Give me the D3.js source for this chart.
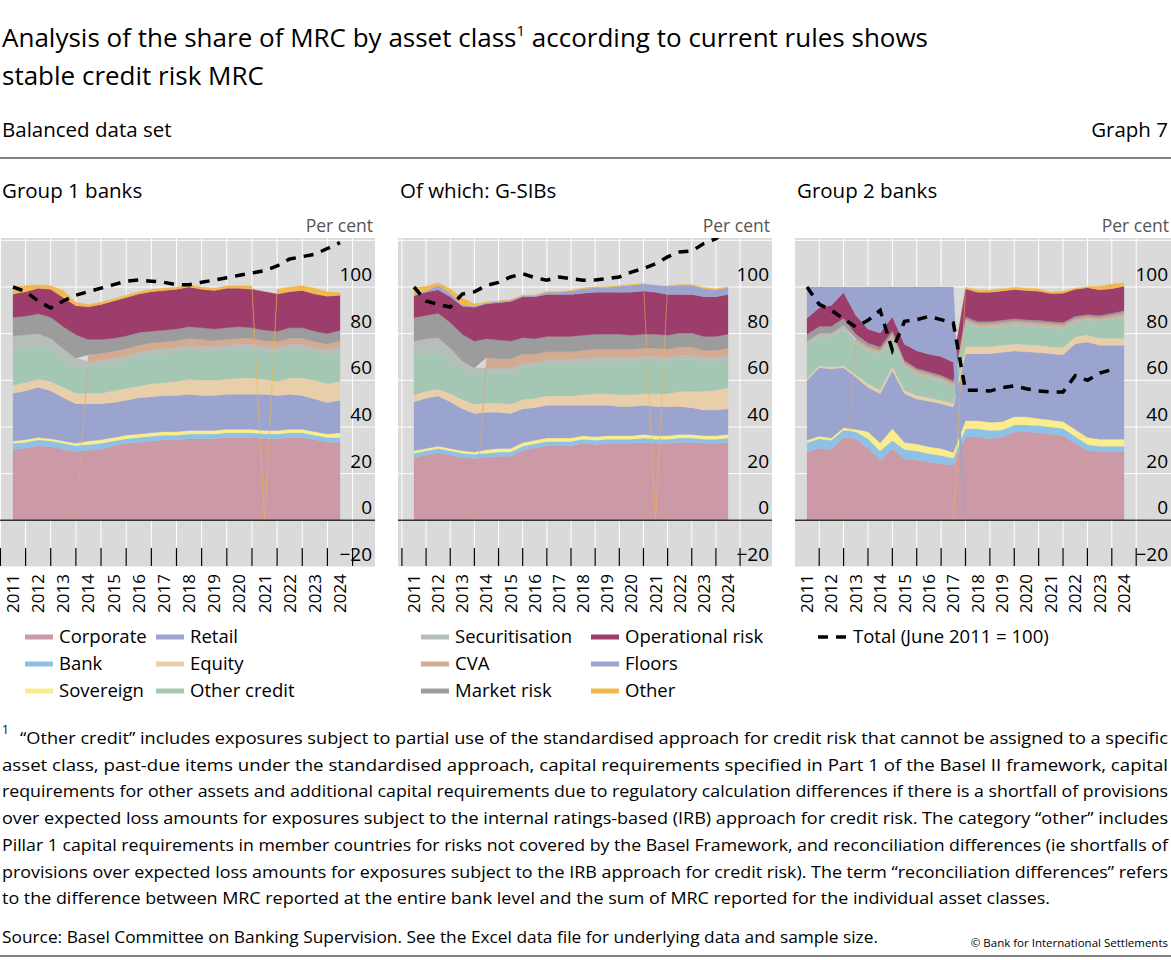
<!DOCTYPE html>
<html><head><meta charset="utf-8">
<script src="https://cdn.jsdelivr.net/npm/d3@7"></script>
<style>body{margin:0;background:#fff;font-family:"Open Sans","Noto Sans",sans-serif;}</style>
</head><body><svg id="c" width="1171" height="960"></svg>
<script>
const years = [2011,2012,2013,2014,2015,2016,2017,2018,2019,2020,2021,2022,2023,2024];
const yTicks = [-20,0,20,40,60,80,100];
const seriesNames = ["Corporate","Bank","Sovereign","Retail","Equity","Other credit","Securitisation","CVA","Market risk","Operational risk","Floors","Other"];
const colors = {"Corporate":"#cc99a6","Bank":"#8ec1e6","Sovereign":"#fbec8c","Retail":"#9ba4cf","Equity":"#e9cfa9","Other credit":"#a4c7b3","Securitisation":"#b5beb9","CVA":"#d3ab93","Market risk":"#9c9c9c","Operational risk":"#9c3d6b","Floors":"#9ba4cf","Other":"#f2b84d"};

// Group 1 banks (semi-annual, June 2011 .. June 2024)
const g1Corporate = [30.5,31,32,31.5,30.5,29.5,30,30.5,32,33,33.5,34,34.5,34.5,35,35,35,35.5,35.5,35.5,35,35,35.5,35.5,34.5,33.5,33.5];
const g1Bank = [2.5,2.5,2.5,2.5,2.5,2.5,2.5,2.5,2,2,2,2,2,2,2,2,2,2,2,2,2,2,2,2,2,2,2];
const g1Sovereign = [1,1,1,1,1,1,1.5,1.5,1.5,1.5,1.5,1.5,1.5,1.5,1.5,1.5,1.5,1.5,1.5,1.5,1.5,1.5,1.5,1.5,1.5,1.5,2];
const g1Retail = [20.5,21,21.5,20.5,18.5,17,16,15.5,15,15,15.5,15.5,15.5,15.5,15.5,15,15,15,15,15,15.5,15,15,14.5,14,13.5,14];
const g1Equity = [3.5,3.5,3.5,4,4.5,4.5,4.5,4.5,5,5,5,5.5,5.5,6,6.5,6.5,6.5,6.5,7,7,6.5,6,7,7.5,8,8,8];
const g1OtherCredit = [15,14.5,14,13.5,12,11,11.5,12,12,12,12.5,12.5,12.5,12.5,12.5,12.5,12.5,12.5,12.5,12.5,12,12.5,12.5,12.5,12,12.5,13];
const g1Securitisation = [6,6,5.5,5,4.5,4,2,2,2,2,2,2,2,2,2,2,2,2,2,2,2,2,2,2,2,2,2];
const g1CVA = [0,0,0,0,0,0,3,3,3,3,3,3,3,3,3,3,2.5,2.5,2.5,2.5,2.5,2.5,2.5,2.5,2.5,2.5,2.5];
const g1MarketRisk = [8,8,8.5,9,9.5,10,6.5,6,5.5,5.5,5.5,5,5,5,5,5,5,5,5,4.5,4.5,4.5,4.5,4.5,4.5,4.5,4.5];
const g1OpRisk = [10,10.5,11,12,12.5,12.5,14,15,16,16.5,16.5,17,17,17,17,16.5,16.5,17,16.5,16.5,16.5,16,15.5,16,16,16,15];
const g1Floors = [0,0,0,0,0,0,0,0,0,0,0,0,0,0,0,0,0,0,0,0,0,0,0,0,0,0,0];
const g1Other = [3,2.5,1.5,1.5,3,1.5,1,1,1,1,1,1,1,1,1,1,1,1,1,1.5,-0.5,2,2,2,2.5,2,1];
const g1Total = [100,98,94,91,94,96.5,98,99.5,101,102.5,103,102.5,102,101,101,102,103,104,105,106,107,109,112,113,114,116.5,119];

// Of which: G-SIBs
const gsCorporate = [27,28,29,28,27,26.5,27,27.5,27.5,30,31,32,32,32,33,32.5,33,33,33,33.5,33,33,33.5,33.5,33,33,33.5];
const gsBank = [1.8,1.8,1.8,1.8,1.8,1.8,1.8,1.8,1.8,1.8,1.8,1.8,1.8,1.8,1.8,1.8,1.8,1.8,1.8,1.8,1.8,1.8,1.8,1.8,1.8,1.8,1.8];
const gsSovereign = [1,1,1,1,1,1,1.5,1.5,1.5,1.5,1.5,1.5,1.5,1.5,1.5,1.5,1.5,1.5,1.5,1.5,1.5,1.5,1.5,1.5,1.5,1.5,1.5];
const gsRetail = [21,21.5,21.5,20,18,16.5,16,15.5,15,14.5,14,14,14,14,13,13.5,13,12.5,12.5,12.5,12.5,12.5,12,11.5,11,11,11];
const gsEquity = [3,3,3,3.5,4,4,4,4,4,4,4,4,4,4,4.5,5,5,5,5,5,5.5,5.5,6.5,7,8,8.5,9];
const gsOtherCredit = [16.5,16,15.5,14,13,12.5,13,13,13.5,13.5,13.5,13.5,13.5,13.5,13.5,13.5,13.5,14,14,14,14,13.5,13.5,13.5,12.5,12,12];
const gsSecuritisation = [6.5,6.5,6.5,5.5,3.5,3,2,2,2,2,2,2,2,2,2,2,2,2,2,2,2,2,2,2,2,2,2];
const gsCVA = [0,0,0,0,0,0,4.5,4,4,4,3.5,3.5,3.5,3.5,3.5,3.5,3.5,3.5,3.5,3.5,3.5,3.5,3.5,3.5,3,3,3];
const gsMarketRisk = [10,10,10.5,11,11.5,11.5,8,8,7.5,7,6.5,6.5,6.5,6.5,6.5,6.5,6.5,6.5,6,6,6,6,6,6,6,6,6];
const gsOpRisk = [9.5,10,10,11,12,14.5,15,16,17,17.5,18,18,18,18,18,18,18,18,18.5,18.5,18,17.5,16.5,16.5,17,17,17];
const gsFloors = [0.5,0.5,2,1.5,0.5,0.5,0.5,0.5,0.5,0.5,0.5,1,1,1.5,2,2,2,2.5,3,3,3,3.5,4,4,3.5,3,3];
const gsOther = [3,2,1,2,3,1,0.3,0.3,0.3,0.3,0.3,0.3,0.3,0.3,0.3,0.3,0.3,0.3,0.3,0.3,-1,0.3,0.3,0.3,0.5,0.5,0.3];
const gsTotal = [100,94,92.5,91.4,97,97.9,100.7,102,104.3,105.7,104,102.9,104.3,103.6,102.9,103,103.6,104.3,106.4,107.9,110,112.9,115,115.4,118.6,120.7,125];

// Group 2 banks
const g2Corporate = [29.3,31,30.3,35.7,35,31,25.7,30.7,26.4,25.7,25,24.3,23.6,35.7,35.7,35,35.7,37.9,37.9,37.6,37,36.4,32.9,30,29.3,29.3,29.3];
const g2Bank = [4,4,4,3,3,4,4,3.5,4,4,3.5,3.5,3,3.5,3.5,3.5,3,3,3,3,3,3,3,2.5,2.5,2.5,2.5];
const g2Sovereign = [1,1,1,1,1,3,3.5,5,3,3,3,3,2.5,3.5,3.5,3.5,3.5,3.5,3.5,3,3,3,3,3,3,3,3];
const g2Retail = [25.7,29.4,29.7,25.7,22.4,19,21.1,25.1,20.9,19.3,19.5,19.2,19.5,28.7,28.7,29.4,29.8,28.2,27.8,28.3,28.4,28.6,36.8,40.9,40.2,40.2,40.2];
const g2Equity = [0.7,0.7,0.7,0.7,1,1.5,1.5,1.5,1.5,1.5,1.5,1.5,1.5,3,3,3,3,3,3,3,3,3,3,3,3,3,3];
const g2OtherCredit = [14,12,12.5,15.5,13,14,15,12,10,9,8.5,8,7,10,8,8,8,8,8,8,8,8,6,6,7,8,9];
const g2Securitisation = [2,2,2,2,1.5,1,1,1,0.7,0.7,0.7,0.7,0.7,0.8,0.8,0.8,0.8,0.8,0.8,0.8,0.8,0.8,0.8,0.8,0.8,0.8,0.8];
const g2CVA = [0,0,0,0,1,1,1,1,1,1,1,1,1,1,1,1,1,1,1,1,1,1,1,1,1,1,1];
const g2MarketRisk = [3,3,3,3,2,1.5,1.5,1.5,1,1,1,1,1,1,1,1,1,1,1,1,1,1,1,1,1,1,1];
const g2OpRisk = [7,8,9,11,8,6,6,6,7,7.5,7.5,8,8,12,12.5,12.5,12.5,12.5,12.5,12.5,12,12.5,11.5,11.5,11,10.5,10.5];
const g2Floors = [13.3,8.9,7.8,2.4,12,18,19.7,12.7,24.5,27.3,28.8,29.8,32.2,0,0,0,0,0,0,0,0,0,0,0,0,0,0];
const g2Other = [0,0,0,0,0,0,0,0,0,0,0,0,0,0.8,1,1,1,1,1,1,0.7,1,0.5,0.5,1.5,2,1.5];
const g2Total = [100,92.6,90,86.4,82.9,85.7,90,72.9,85.3,86,87.4,86,84.6,55.7,55.7,55.4,56.9,57.6,56.4,55.4,55,55,62,60,63.1,64.6,null];

const panels = [
  {title:"Group 1 banks", gx0:0, gx1:375, dx0:13, dx1:340,
   data:[g1Corporate,g1Bank,g1Sovereign,g1Retail,g1Equity,g1OtherCredit,g1Securitisation,g1CVA,g1MarketRisk,g1OpRisk,g1Floors,g1Other], total:g1Total},
  {title:"Of which: G-SIBs", gx0:398, gx1:772, dx0:414, dx1:728,
   data:[gsCorporate,gsBank,gsSovereign,gsRetail,gsEquity,gsOtherCredit,gsSecuritisation,gsCVA,gsMarketRisk,gsOpRisk,gsFloors,gsOther], total:gsTotal},
  {title:"Group 2 banks", gx0:795, gx1:1171, dx0:807, dx1:1124,
   data:[g2Corporate,g2Bank,g2Sovereign,g2Retail,g2Equity,g2OtherCredit,g2Securitisation,g2CVA,g2MarketRisk,g2OpRisk,g2Floors,g2Other], total:g2Total}
];

const svg = d3.select("#c");
const F = '"Open Sans","Noto Sans",sans-serif';
const txt = (x,y,s,size,opts={}) => svg.append("text").attr("x",x).attr("y",y).attr("font-size",size)
  .attr("font-family",F).attr("fill",opts.fill||"#000").attr("text-anchor",opts.anchor||"start").text(s);

// Titles
const t1 = txt(2,47,"Analysis of the share of MRC by asset class",26);
t1.append("tspan").attr("font-size",15).attr("dy",-11).text("1");
t1.append("tspan").attr("dy",11).text(" according to current rules shows");
txt(2,85,"stable credit risk MRC",26);
txt(2,137,"Balanced data set",20.5);
txt(1168,137,"Graph 7",20.5,{anchor:"end"});
svg.append("line").attr("x1",0).attr("x2",1171).attr("y1",158).attr("y2",158).attr("stroke","#000").attr("stroke-width",1);

const y = d3.scaleLinear().domain([-20,121]).range([567,238]);
const nPts = g1Corporate.length;

panels.forEach(p => {
  const x = d3.scaleLinear().domain([2011,2024]).range([p.dx0,p.dx1]);
  const tOf = i => 2011 + i/2;
  const g = svg.append("g");
  const clipId = "clip"+p.gx0;
  svg.append("clipPath").attr("id",clipId).append("rect").attr("x",p.gx0).attr("y",238).attr("width",p.gx1-p.gx0).attr("height",329);
  txt(p.gx0+2,198,p.title,20.5);
  txt(p.gx1-2,232,"Per cent",17.5,{anchor:"end",fill:"#555"});
  g.append("rect").attr("x",p.gx0).attr("y",238).attr("width",p.gx1-p.gx0).attr("height",329).attr("fill","#dadada");
  const tickTs = d3.range(2010.5,2025,1).filter(t=>x(t)>=p.gx0 && x(t)<=p.gx1);
  g.selectAll(".vg").data(tickTs).join("line").attr("x1",d=>x(d)).attr("x2",d=>x(d)).attr("y1",238).attr("y2",567).attr("stroke","#fff").attr("stroke-width",1);
  g.selectAll(".hg").data(yTicks.concat([120])).join("line").attr("x1",p.gx0).attr("x2",p.gx1).attr("y1",d=>y(d)).attr("y2",d=>y(d)).attr("stroke","#fff").attr("stroke-width",1);
  const rows = d3.range(nPts).map(i => { const o={i}; seriesNames.forEach((s,k)=>o[s]=p.data[k][i]); return o; });
  const stack = d3.stack().keys(seriesNames).offset(d3.stackOffsetDiverging)(rows);
  const area = d3.area().x(d=>x(tOf(d.data.i))).y0(d=>y(d[0])).y1(d=>y(d[1]));
  const cg = g.append("g").attr("clip-path",`url(#${clipId})`);
  cg.selectAll(".a").data(stack).join("path").attr("d",area).attr("fill",d=>colors[d.key]).attr("stroke",d=>colors[d.key]).attr("stroke-width",0.3);
  g.append("line").attr("x1",p.gx0).attr("x2",p.gx1).attr("y1",y(0)).attr("y2",y(0)).attr("stroke","#333").attr("stroke-width",1.5);
  g.selectAll(".tk").data(tickTs).join("line").attr("x1",d=>x(d)).attr("x2",d=>x(d)).attr("y1",548).attr("y2",566).attr("stroke","#000").attr("stroke-width",1.2);
  const line = d3.line().defined(d=>d!=null).x((d,i)=>x(tOf(i))).y(d=>y(d));
  cg.append("path").attr("d",line(p.total)).attr("fill","none").attr("stroke","#000").attr("stroke-width",3.5).attr("stroke-dasharray","10,8");
  g.selectAll(".yl").data(yTicks).join("text").attr("x",p.gx1-3).attr("y",d=>y(d)-6).attr("text-anchor","end")
    .attr("font-size",19).attr("font-family",F).text(d=>d<0?"\u2212"+Math.abs(d):d);
  g.selectAll(".xl").data(years).join("text").attr("transform",d=>`translate(${x(d)+6},574) rotate(-90)`)
    .attr("text-anchor","end").attr("font-size",17).attr("font-family",F).text(d=>d);
});

const leg = (x,yy,name,color) => {
  svg.append("line").attr("x1",x).attr("x2",x+28).attr("y1",yy-6).attr("y2",yy-6).attr("stroke",color).attr("stroke-width",5);
  txt(x+34,yy,name,18.5);
};
const rowsY = [643,670,697];
leg(25,rowsY[0],"Corporate",colors["Corporate"]); leg(156,rowsY[0],"Retail",colors["Retail"]);
leg(25,rowsY[1],"Bank",colors["Bank"]); leg(156,rowsY[1],"Equity",colors["Equity"]);
leg(25,rowsY[2],"Sovereign",colors["Sovereign"]); leg(156,rowsY[2],"Other credit",colors["Other credit"]);
leg(421,rowsY[0],"Securitisation",colors["Securitisation"]); leg(591,rowsY[0],"Operational risk",colors["Operational risk"]);
leg(421,rowsY[1],"CVA",colors["CVA"]); leg(591,rowsY[1],"Floors",colors["Floors"]);
leg(421,rowsY[2],"Market risk",colors["Market risk"]); leg(591,rowsY[2],"Other",colors["Other"]);
svg.append("line").attr("x1",818).attr("x2",848).attr("y1",rowsY[0]-6).attr("y2",rowsY[0]-6).attr("stroke","#000").attr("stroke-width",3.5).attr("stroke-dasharray","10,8");
txt(853,rowsY[0],"Total (June 2011 = 100)",18.5);

const foot = [
 ["“Other credit” includes exposures subject to partial use of the standardised approach for credit risk that cannot be assigned to a specific", 1168],
 ["asset class, past-due items under the standardised approach, capital requirements specified in Part 1 of the Basel II framework, capital", 1168],
 ["requirements for other assets and additional capital requirements due to regulatory calculation differences if there is a shortfall of provisions", 1168],
 ["over expected loss amounts for exposures subject to the internal ratings-based (IRB) approach for credit risk. The category “other” includes", 1168],
 ["Pillar 1 capital requirements in member countries for risks not covered by the Basel Framework, and reconciliation differences (ie shortfalls of", 1168],
 ["provisions over expected loss amounts for exposures subject to the IRB approach for credit risk). The term “reconciliation differences” refers", 1168],
 ["to the difference between MRC reported at the entire bank level and the sum of MRC reported for the individual asset classes.", 1050]
];
txt(2,734,"1",12);
foot.forEach((f,i)=>{
  const x0 = i===0?20:2;
  txt(x0,744+i*26.7,f[0],16.5).attr("textLength",f[1]-x0).attr("lengthAdjust","spacingAndGlyphs");
});
txt(2,943,"Source: Basel Committee on Banking Supervision. See the Excel data file for underlying data and sample size.",17)
  .attr("textLength",876).attr("lengthAdjust","spacingAndGlyphs");
txt(1168,947,"© Bank for International Settlements",11.5,{anchor:"end"});
svg.append("line").attr("x1",0).attr("x2",1171).attr("y1",956).attr("y2",956).attr("stroke","#000").attr("stroke-width",1);
</script></body></html>
